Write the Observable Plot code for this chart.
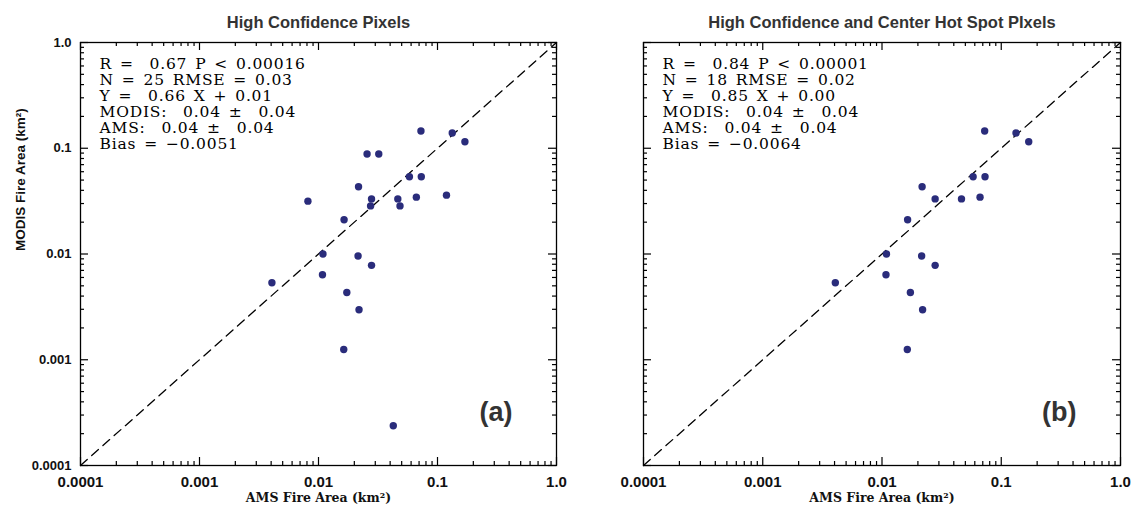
<!DOCTYPE html>
<html><head><meta charset="utf-8">
<script src="https://cdn.jsdelivr.net/npm/d3@7"></script>
<script src="https://cdn.jsdelivr.net/npm/@observablehq/plot@0.6"></script>
<style>
body{margin:0;background:#fff}
#wrap{display:flex;width:1136px;height:506px;overflow:hidden}
text.stats, text.stats tspan{letter-spacing:0.8px;word-spacing:2.2px}
</style>
</head><body><div id="wrap"></div>
<script>
// Panel (a): all high-confidence pixels
const amsA   = [0.0726,0.133,0.170,0.0256,0.0321,0.0581,0.0731,0.0217,0.00815,0.0279,0.0464,0.0664,0.119,0.0274,0.0484,0.0164,0.0109,0.0215,0.0279,0.0108,0.00406,0.0173,0.0219,0.0163,0.0425];
const modisA = [0.1456,0.1393,0.1153,0.0881,0.0881,0.0537,0.0537,0.0432,0.0316,0.0332,0.0332,0.0345,0.0360,0.0285,0.0285,0.0211,0.0100,0.00957,0.00781,0.00637,0.00535,0.00433,0.00297,0.00125,0.000238];
// Panel (b): high-confidence and center hot spot pixels
const amsB   = [0.0726,0.133,0.170,0.0581,0.0731,0.0217,0.0279,0.0464,0.0664,0.0164,0.0109,0.0215,0.0279,0.0108,0.00406,0.0173,0.0219,0.0163];
const modisB = [0.1456,0.1393,0.1153,0.0537,0.0537,0.0432,0.0332,0.0332,0.0345,0.0211,0.0100,0.00957,0.00781,0.00637,0.00535,0.00433,0.00297,0.00125];

const tickValues = [0.0001, 0.001, 0.01, 0.1, 1];
const tickLabels = ["0.0001", "0.001", "0.01", "0.1", "1.0"];
const minorMantissas = [2,3,4,5,6,7,8,9];
const minorTicks = tickValues.slice(0, -1).flatMap(d => minorMantissas.map(m => m * d));

const S = "\u00a0"; // preserved space
const titleA = "High Confidence Pixels";
const titleB = "High Confidence and Center Hot Spot PIxels";
const statsA = [`R =${S} 0.67 P < 0.00016`, "N = 25 RMSE = 0.03", `Y =${S} 0.66 X + 0.01`, `MODIS:${S} 0.04 ±${S} 0.04`, `AMS:${S} 0.04 ±${S} 0.04`, "Bias = \u22120.0051"].join("\n");
const statsB = [`R =${S} 0.84 P < 0.00001`, "N = 18 RMSE = 0.02", `Y =${S} 0.85 X + 0.00`, `MODIS:${S} 0.04 ±${S} 0.04`, `AMS:${S} 0.04 ±${S} 0.04`, "Bias = \u22120.0064"].join("\n");
const xTitle = "AMS Fire Area (km²)";
const yTitle = "MODIS Fire Area (km²)";

const SANS = "'Liberation Sans', Arial, Helvetica, sans-serif";
const SERIF = "'DejaVu Serif', serif";

function panel({ams, modis, title, stats, letter, marginLeft, marginRight, showY}) {
  const W = 568, H = 506, mt = 42, mb = 41;
  const fh = H - mt - mb, fw = W - marginLeft - marginRight;
  const pts = ams.map((x, i) => ({x, y: modis[i]}));
  const fmt = d => tickLabels[tickValues.indexOf(d)];
  const marks = [
    Plot.line([[1e-4, 1e-4], [1, 1]], {stroke: "#000", strokeWidth: 1.3, strokeDasharray: "9,6"}),
    Plot.dot(pts, {x: "x", y: "y", r: 3.7, fill: "#2a2c7b", stroke: "none"}),
    Plot.frame({stroke: "#000", strokeWidth: 1.3}),
    // bottom & top ticks
    Plot.ruleX(tickValues, {insetTop: fh - 8, stroke: "#000", strokeWidth: 1.2}),
    Plot.ruleX(minorTicks, {insetTop: fh - 4, stroke: "#000", strokeWidth: 1.2}),
    Plot.ruleX(tickValues, {insetBottom: fh - 8, stroke: "#000", strokeWidth: 1.2}),
    Plot.ruleX(minorTicks, {insetBottom: fh - 4, stroke: "#000", strokeWidth: 1.2}),
    // left & right ticks
    Plot.ruleY(tickValues, {insetRight: fw - 8, stroke: "#000", strokeWidth: 1.2}),
    Plot.ruleY(minorTicks, {insetRight: fw - 4, stroke: "#000", strokeWidth: 1.2}),
    Plot.ruleY(tickValues, {insetLeft: fw - 8, stroke: "#000", strokeWidth: 1.2}),
    Plot.ruleY(minorTicks, {insetLeft: fw - 4, stroke: "#000", strokeWidth: 1.2}),
    Plot.axisX({ticks: tickValues, tickSize: 0, tickPadding: 11, tickFormat: fmt, label: null,
      fontSize: 15, fontWeight: "bold", fontFamily: SANS, fill: "#111"}),
    Plot.text([xTitle], {frameAnchor: "bottom", dy: 36, fontFamily: SERIF, fontWeight: "bold", fontSize: 12.5, fill: "#111"}),
    Plot.text([title], {frameAnchor: "top", dy: -26, fontFamily: SANS, fontWeight: "bold", fontSize: 16.5, fill: "#333"}),
    Plot.text([stats], {frameAnchor: "top-left", dx: 19, dy: 15, textAnchor: "start", lineAnchor: "top",
      lineHeight: 1.03, fontFamily: SERIF, fontSize: 15.5, fill: "#000"}),
    Plot.text([letter], {frameAnchor: "bottom-right", dx: -44, dy: -45, textAnchor: "end",
      fontFamily: SANS, fontWeight: "bold", fontSize: 27, fill: "#333"})
  ];
  if (showY) {
    marks.push(Plot.axisY({ticks: tickValues, tickSize: 0, tickPadding: 9, tickFormat: fmt, label: null,
      fontSize: 13, fontWeight: "bold", fontFamily: SANS, fill: "#111"}));
    marks.push(Plot.text([yTitle], {frameAnchor: "left", dx: -60, dy: -3, rotate: -90,
      fontFamily: SANS, fontWeight: "bold", fontSize: 13.5, fill: "#111"}));
  } else {
    marks.push(Plot.axisY({ticks: [], tickSize: 0, label: null}));
  }
  const svg = Plot.plot({
    width: W, height: H, marginLeft, marginRight, marginTop: mt, marginBottom: mb,
    style: {background: "#fff", overflow: "visible"},
    x: {type: "log", domain: [1e-4, 1]},
    y: {type: "log", domain: [1e-4, 1]},
    marks
  });
  // tag the statistics block so its spacing can be widened like the original's typeface
  d3.select(svg).selectAll("text").filter(function() { return this.textContent.startsWith("R ="); }).classed("stats", true);
  return svg;
}

const wrap = document.getElementById("wrap");
wrap.append(panel({ams: amsA, modis: modisA, title: titleA, stats: statsA, letter: "(a)", marginLeft: 80, marginRight: 12, showY: true}));
wrap.append(panel({ams: amsB, modis: modisB, title: titleB, stats: statsB, letter: "(b)", marginLeft: 75, marginRight: 16, showY: false}));
</script>
</body></html>
